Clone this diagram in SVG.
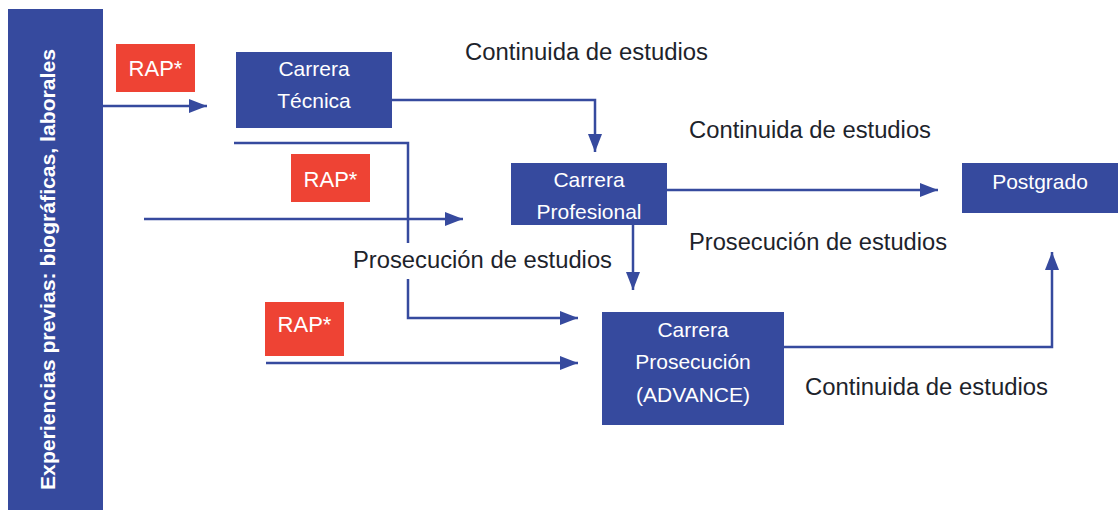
<svg xmlns="http://www.w3.org/2000/svg" width="1118" height="510" viewBox="0 0 1118 510">
  <style>
    .blue { fill: #364a9e; }
    .red { fill: #ee4334; }
    .wt { fill: #ffffff; font-family: "Liberation Sans", Arial, sans-serif; font-size: 21px; text-anchor: middle; }
    .rap { fill: #ffffff; font-family: "Liberation Sans", Arial, sans-serif; font-size: 22px; text-anchor: middle; }
    .lbl { fill: #1d232b; font-family: "Liberation Sans", Arial, sans-serif; font-size: 23px; }
    .conn { fill: none; stroke: #364a9e; stroke-width: 2.5; }
  </style>
  <defs>
    <marker id="arr" markerUnits="userSpaceOnUse" markerWidth="18" markerHeight="14" refX="18" refY="7" orient="auto">
      <path d="M0,0 L18,7 L0,14 z" fill="#364a9e"/>
    </marker>
  </defs>
  <rect width="1118" height="510" fill="#ffffff"/>

  <g id="experiencias">
    <rect class="blue" x="8" y="9" width="95" height="501"/>
    <text transform="translate(55,269.5) rotate(-90)" x="0" y="0" fill="#ffffff" font-family="'Liberation Sans', Arial, sans-serif" font-size="21" font-weight="bold" text-anchor="middle" textLength="441" lengthAdjust="spacingAndGlyphs">Experiencias previas: biográficas, laborales</text>
  </g>

  <g id="connectors">
    <path class="conn" d="M103,106 H207" marker-end="url(#arr)"/>
    <path class="conn" d="M234,143 H408 V243"/>
    <path class="conn" d="M408,279 V318 H578" marker-end="url(#arr)"/>
    <path class="conn" d="M144,219 H463" marker-end="url(#arr)"/>
    <path class="conn" d="M392,100 H595 V152" marker-end="url(#arr)"/>
    <path class="conn" d="M667,190 H938" marker-end="url(#arr)"/>
    <path class="conn" d="M633,225 V290" marker-end="url(#arr)"/>
    <path class="conn" d="M266,363 H578" marker-end="url(#arr)"/>
    <path class="conn" d="M784,347 H1052 V252" marker-end="url(#arr)"/>
  </g>

  <g id="rap1">
    <rect class="red" x="116" y="44" width="79" height="48"/>
    <text class="rap" x="155.5" y="76">RAP*</text>
  </g>
  <g id="rap2">
    <rect class="red" x="291" y="154" width="79" height="48"/>
    <text class="rap" x="330.5" y="187">RAP*</text>
  </g>
  <g id="rap3">
    <rect class="red" x="265" y="302" width="79" height="54"/>
    <text class="rap" x="304.5" y="332">RAP*</text>
  </g>

  <g id="carrera-tecnica">
    <rect class="blue" x="236" y="52" width="156" height="76"/>
    <text class="wt" x="314" y="76">Carrera</text>
    <text class="wt" x="314" y="108">Técnica</text>
  </g>
  <g id="carrera-profesional">
    <rect class="blue" x="511" y="163" width="156" height="62"/>
    <text class="wt" x="589" y="187">Carrera</text>
    <text class="wt" x="589" y="219">Profesional</text>
  </g>
  <g id="carrera-prosecucion">
    <rect class="blue" x="602" y="312" width="182" height="113"/>
    <text class="wt" x="693" y="337">Carrera</text>
    <text class="wt" x="693" y="369">Prosecución</text>
    <text class="wt" x="693" y="402">(ADVANCE)</text>
  </g>
  <g id="postgrado">
    <rect class="blue" x="962" y="163" width="156" height="50"/>
    <text class="wt" x="1040" y="189">Postgrado</text>
  </g>

  <g id="labels">
    <text class="lbl" x="465" y="60" textLength="243" lengthAdjust="spacingAndGlyphs">Continuida de estudios</text>
    <text class="lbl" x="689" y="138" textLength="242" lengthAdjust="spacingAndGlyphs">Continuida de estudios</text>
    <text class="lbl" x="689" y="250" textLength="258" lengthAdjust="spacingAndGlyphs">Prosecución de estudios</text>
    <text class="lbl" x="353" y="268" textLength="259" lengthAdjust="spacingAndGlyphs">Prosecución de estudios</text>
    <text class="lbl" x="805" y="395" textLength="243" lengthAdjust="spacingAndGlyphs">Continuida de estudios</text>
  </g>
</svg>
